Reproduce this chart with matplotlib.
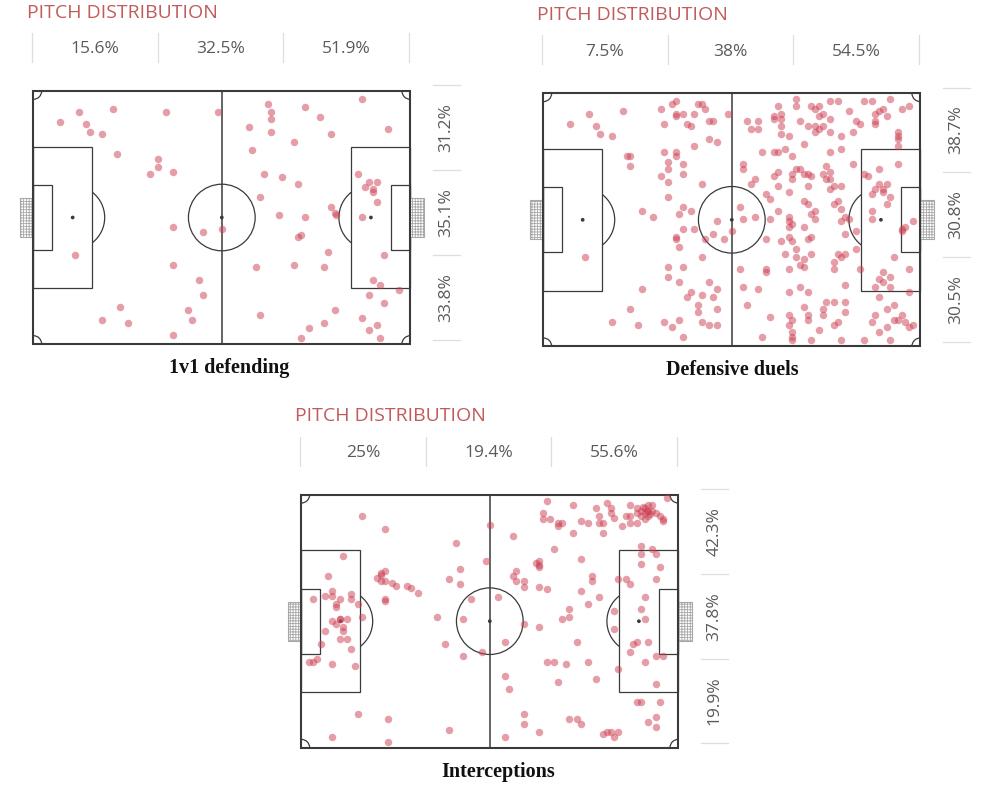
import matplotlib
matplotlib.use("Agg")
import matplotlib.pyplot as plt
from matplotlib.patches import Rectangle, Arc, Circle

plt.rcParams['hatch.linewidth'] = 0.6

# ---------------- data (pitch units: length 113, width 76, y measured from top touchline) ----------------
titles = ["1v1 defending", "Defensive duels", "Interceptions"]
header = "PITCH DISTRIBUTION"

top_pct_1 = ["15.6%", "32.5%", "51.9%"]
side_pct_1 = ["31.2%", "35.1%", "33.8%"]
top_pct_2 = ["7.5%", "38%", "54.5%"]
side_pct_2 = ["38.7%", "30.8%", "30.5%"]
top_pct_3 = ["25%", "19.4%", "55.6%"]
side_pct_3 = ["42.3%", "37.8%", "19.9%"]

# 1v1 defending
x1 = [8.1, 13.7, 15.9, 17.1, 20.5, 23.8, 25.0, 39.7, 55.4, 37.4,
      37.4, 35.1, 42.0, 12.5, 42.0, 51.0, 56.7, 42.0, 49.8, 51.0,
      26.1, 20.5, 28.4, 46.4, 47.5, 42.0,
      70.2, 71.2, 71.2, 64.6, 71.2, 81.4, 85.9, 98.4, 106.3, 89.3,
      78.0, 65.6, 69.0, 74.6, 79.2, 67.9, 97.2, 100.5, 102.9, 99.4,
      101.7, 101.7, 102.9, 98.4, 89.3, 90.3, 90.7, 73.5, 81.4, 80.3,
      79.2, 88.2, 105.1, 66.8, 78.0, 87.1, 101.7, 104.0, 109.7, 100.5,
      105.1, 90.5, 67.9, 98.4, 87.1, 82.5, 102.9, 100.5, 80.3, 104.0]
y1 = [9.2, 6.2, 10.0, 12.2, 13.0, 5.4, 19.0, 6.2, 6.2, 20.5,
      22.8, 25.0, 24.4, 49.2, 41.0, 42.4, 41.6, 52.3, 56.8, 61.3,
      65.0, 68.8, 69.6, 65.8, 68.8, 73.4,
      4.0, 6.2, 8.5, 10.8, 12.2, 4.8, 7.8, 2.4, 11.5, 13.0,
      15.2, 17.6, 25.0, 25.8, 28.0, 31.8, 25.0, 27.4, 27.4, 28.8,
      29.4, 30.4, 33.4, 37.9, 34.8, 36.6, 37.2, 37.2, 37.9, 43.2,
      44.0, 48.5, 49.2, 53.0, 52.3, 53.0, 56.8, 58.2, 59.8, 61.3,
      63.6, 65.8, 67.4, 68.1, 69.6, 71.1, 70.4, 71.9, 74.1, 74.1]

# Defensive duels
x2 = [8.1, 13.7, 15.9, 17.1, 20.5, 23.8, 25.0, 26.1, 26.1, 12.6,
      29.5, 32.8, 29.5, 26.1, 20.5, 28.4, 35.2, 38.6, 39.7, 39.7,
      39.7, 42.0, 45.3, 46.4, 47.5, 48.6, 36.3, 43.1, 44.2, 49.8,
      50.9, 55.4, 49.8, 52.1, 45.3, 36.3, 39.7, 39.7, 37.4, 42.0,
      37.4, 35.2, 42.0, 37.4, 47.5, 37.4, 42.0, 40.8, 44.2, 52.1,
      42.0, 45.3, 39.7, 39.7, 40.8, 48.6, 50.9, 54.3, 56.7, 47.5,
      37.4, 42.0, 37.4, 40.8, 49.8, 52.1, 44.2, 43.1, 47.5, 50.9,
      46.4, 52.1, 46.4, 36.3, 38.6, 40.8, 47.5, 49.8, 52.1, 42.0,
      60.0, 60.0, 61.1, 62.3, 64.5, 64.5, 69.0, 69.0, 70.2, 71.3,
      71.3, 71.3, 71.3, 73.5, 75.8, 75.8, 76.9, 80.3, 81.4, 82.5,
      83.7, 82.5, 79.2, 81.4, 81.4, 82.5, 83.7, 85.9, 88.2, 85.9,
      85.9, 91.5, 89.3, 92.7, 93.8, 95.0, 96.1, 98.4, 99.4, 100.5,
      101.7, 102.9, 99.4, 99.4, 104.0, 107.4, 109.7, 106.3, 106.3, 106.3,
      106.3, 78.0, 65.7, 69.0, 70.2, 72.4, 74.6, 85.9, 89.3, 106.3,
      92.7, 100.5,
      69.0, 70.2, 75.8, 76.9, 74.6, 74.6, 78.0, 79.2, 80.3, 83.7,
      84.8, 85.9, 85.9, 84.8, 63.4, 62.3, 70.2, 73.5, 79.2, 85.9,
      87.1, 89.3, 66.8, 67.9, 78.0, 79.2, 87.1, 88.2, 89.3, 70.2,
      73.5, 73.5, 74.6, 80.3, 81.4, 81.4, 78.0, 73.5, 67.9, 60.0,
      63.4, 58.9, 89.3, 90.5, 91.5, 90.5, 93.8, 96.1, 97.2, 99.4,
      100.5, 101.7, 101.7, 102.9, 98.4, 102.9, 104.0, 98.4, 98.4, 107.4,
      107.4, 108.5, 110.8,
      66.8, 71.3, 73.5, 74.6, 79.2, 80.3, 75.8, 72.4, 75.8, 78.0,
      80.3, 76.9, 78.0, 87.1, 88.2, 89.3, 90.5, 93.8, 87.1, 58.9,
      66.8, 66.8, 73.5, 95.0, 105.1, 109.7, 101.7, 100.5, 101.7, 104.0,
      99.4, 104.0, 109.7, 100.5, 90.5, 60.0, 64.5, 73.5, 76.9, 79.2,
      61.1, 78.0, 84.8, 87.1, 90.5, 83.7, 83.7, 90.5, 67.9, 73.5,
      74.6, 73.5, 79.2, 79.2, 87.1, 88.2, 82.5, 74.6, 74.6, 74.6,
      65.7, 80.3, 89.3, 96.1, 98.4, 99.4, 102.9, 105.1, 105.1, 106.3,
      107.4, 108.5, 109.7, 110.8, 102.9, 100.5, 104.0]
y2 = [9.1, 6.1, 9.9, 12.1, 12.9, 5.3, 18.9, 18.9, 21.9, 49.1,
      35.5, 37.1, 58.9, 64.9, 68.7, 69.5, 4.7, 3.1, 2.3, 6.1,
      6.9, 6.1, 6.1, 3.1, 3.1, 4.7, 9.1, 9.1, 9.9, 8.3,
      8.3, 6.1, 13.7, 14.5, 15.9, 17.5, 17.5, 18.9, 20.5, 21.3,
      22.7, 24.9, 24.3, 26.5, 27.3, 31.1, 34.1, 36.3, 35.5, 38.5,
      40.9, 40.9, 43.1, 43.9, 46.1, 43.9, 42.3, 43.9, 41.5, 49.1,
      52.1, 52.1, 55.1, 56.7, 56.7, 58.9, 59.7, 61.1, 60.5, 61.1,
      63.5, 64.9, 65.7, 68.7, 70.3, 68.0, 68.7, 69.5, 69.5, 73.3,
      21.3, 22.7, 8.3, 10.7, 8.3, 10.7, 6.9, 7.7, 3.9, 6.1,
      7.7, 9.9, 12.1, 12.9, 1.7, 3.9, 8.3, 3.9, 4.7, 3.9,
      6.1, 6.9, 9.9, 9.9, 11.5, 10.7, 9.9, 2.3, 2.3, 7.7,
      11.5, 5.3, 12.9, 11.5, 8.3, 9.1, 2.3, 2.3, 6.1, 5.3,
      4.7, 6.9, 8.3, 9.1, 1.7, 4.7, 3.9, 11.5, 12.9, 13.7,
      15.9, 15.3, 17.5, 17.5, 17.5, 16.7, 18.9, 17.5, 16.7, 21.3,
      21.3, 22.7,
      24.9, 23.5, 22.7, 22.7, 24.3, 25.7, 24.3, 24.3, 24.9, 24.3,
      21.9, 23.5, 25.7, 25.7, 25.7, 27.3, 27.9, 29.5, 27.9, 28.7,
      27.9, 27.9, 30.3, 31.7, 32.5, 33.3, 33.3, 32.5, 34.7, 35.5,
      37.1, 38.5, 39.3, 36.3, 35.5, 37.7, 40.1, 40.1, 37.7, 37.7,
      37.1, 34.1, 38.5, 37.1, 37.7, 42.3, 41.5, 24.3, 24.9, 28.7,
      27.3, 28.7, 29.5, 27.3, 30.3, 33.3, 31.1, 35.5, 37.7, 40.9,
      41.5, 40.1, 38.5,
      43.9, 44.5, 43.1, 44.5, 43.9, 43.1, 46.9, 48.3, 49.1, 49.9,
      48.3, 51.5, 52.3, 50.7, 48.3, 49.1, 48.3, 46.9, 52.9, 52.9,
      52.9, 53.7, 52.9, 52.9, 49.1, 52.9, 53.7, 55.9, 56.7, 55.1,
      58.1, 58.1, 59.7, 61.1, 57.5, 58.1, 58.9, 59.7, 58.1, 59.7,
      63.5, 64.1, 62.7, 62.7, 62.7, 64.9, 66.5, 65.7, 67.3, 66.5,
      68.1, 69.5, 66.5, 68.1, 69.5, 68.7, 71.1, 71.7, 73.3, 74.1,
      73.3, 74.1, 74.1, 74.1, 68.7, 66.5, 64.9, 63.5, 68.0, 68.0,
      66.5, 68.7, 70.3, 69.5, 70.3, 71.7, 74.1]

# Interceptions
x3 = [18.2, 25.0, 12.6, 8.1, 22.7, 23.8, 23.8, 25.0, 23.8, 25.0,
      27.3, 28.4, 31.7, 32.8, 35.1, 25.0, 25.0, 3.5, 7.0, 9.2,
      9.2, 11.5, 14.9, 14.9, 10.3, 10.3, 17.1, 18.2, 9.2, 10.3,
      11.5, 11.5, 12.6, 13.7, 12.6, 7.0, 11.5, 13.7, 5.8, 14.9,
      2.4, 3.5, 4.7, 9.2, 16.0, 17.1, 26.1, 9.2, 26.1, 44.2,
      40.8, 43.1, 48.6, 48.6, 51.0, 54.3, 46.4, 55.4, 56.7, 47.5,
      44.2, 47.5,
      58.9, 63.4, 63.4, 64.5, 64.5, 66.8, 66.8, 70.2, 71.3, 71.3,
      71.3, 71.3, 73.5, 66.8, 71.3, 61.1, 73.5, 72.4, 72.4, 74.6,
      76.9, 78.0, 76.9, 81.4, 81.4, 75.8, 83.7, 85.9, 88.2, 89.3,
      89.3, 90.5, 90.5, 91.5, 92.7, 92.7, 93.8, 96.1, 97.2, 98.4,
      98.4, 98.4, 100.5, 100.5, 100.5, 101.7, 101.7, 102.9, 102.9, 104.0,
      104.0, 105.1, 105.1, 104.0, 102.9, 106.3, 107.4, 108.5, 108.5, 109.7,
      83.7, 87.1, 87.1, 83.7, 89.3, 85.9, 80.3, 80.3, 78.0, 82.5,
      93.8, 93.8, 95.0, 97.2, 98.4, 101.7, 101.7, 101.7, 105.1, 106.3,
      107.4, 106.3, 102.9, 101.7, 102.9, 99.4, 100.5, 98.4, 104.0, 106.3,
      108.5, 102.9, 95.0, 73.5, 75.8, 79.2, 85.9, 61.1, 62.3, 76.9,
      88.2, 106.3, 100.5, 101.7, 107.4, 66.8, 66.8, 80.3, 82.5, 83.7,
      71.3, 61.1, 90.5, 91.5, 92.7, 93.8, 95.0, 104.0, 106.3, 106.3,
      103.5, 102.3, 104.6]
y3 = [6.4, 10.2, 18.4, 24.4, 25.0, 24.2, 23.6, 22.8, 25.8, 25.8,
      26.6, 27.4, 27.4, 28.0, 29.6, 31.2, 32.0, 31.2, 30.4, 29.0,
      30.4, 31.2, 29.8, 31.2, 32.8, 33.6, 32.8, 36.6, 38.0, 38.8,
      37.4, 37.2, 39.6, 37.4, 41.0, 41.0, 43.4, 43.4, 44.8, 46.4,
      50.2, 50.2, 49.4, 51.0, 51.6, 66.0, 67.4, 72.8, 74.2, 70.6,
      36.6, 44.8, 48.6, 37.4, 31.2, 47.2, 14.6, 19.8, 9.2, 22.2,
      25.2, 26.8,
      30.6, 12.4, 24.4, 22.8, 26.0, 26.0, 27.6, 20.6, 19.8, 21.6,
      21.0, 27.6, 28.2, 38.8, 39.6, 44.2, 1.8, 5.6, 7.2, 7.2,
      8.6, 8.6, 9.4, 3.2, 11.6, 16.2, 7.8, 8.6, 4.0, 6.4,
      8.6, 8.6, 11.6, 2.6, 4.0, 5.6, 7.0, 9.4, 6.4, 6.4,
      3.2, 8.6, 8.6, 4.0, 5.6, 4.8, 6.4, 4.0, 5.6, 3.2,
      4.8, 3.2, 4.8, 6.4, 7.2, 5.6, 6.4, 7.2, 7.8, 1.0,
      19.2, 24.4, 25.8, 29.0, 30.6, 32.8, 34.4, 36.6, 37.4, 44.2,
      35.0, 40.4, 25.2, 25.2, 26.8, 15.4, 17.8, 20.8, 16.2, 17.8,
      21.6, 25.2, 30.6, 34.4, 37.4, 44.8, 44.2, 47.2, 44.2, 48.6,
      48.6, 50.2, 52.4, 50.2, 50.2, 51.0, 50.2, 54.6, 58.4, 56.2,
      55.4, 57.0, 62.2, 62.2, 62.2, 66.0, 69.0, 67.4, 67.4, 69.0,
      71.4, 72.8, 72.0, 71.2, 71.2, 72.8, 71.2, 68.2, 66.8, 69.8,
      5.0, 3.6, 5.9]

# ---------------- layout ----------------
W, H = 998, 793
fig = plt.figure(figsize=(W / 100, H / 100), dpi=100)
fig.patch.set_facecolor("white")

PL, PW = 113.0, 76.0
LINE = "#3a3a3a"
RED = "#c25b5b"
GREY_TXT = "#5a5a5a"
SEP = "#dedede"
DOT = "#cc3f52"


def add_axes_px(x0, y0, w, h):
    return fig.add_axes([x0 / W, 1 - (y0 + h) / H, w / W, h / H])


def draw_pitch(ax):
    ax.set_xlim(0, PL)
    ax.set_ylim(PW, 0)
    ax.axis("off")
    kw = dict(fill=False, ec=LINE, clip_on=False)
    ax.add_patch(Rectangle((0, 0), PL, PW, lw=1.5, zorder=2, **kw))
    ax.plot([PL / 2, PL / 2], [0, PW], color=LINE, lw=1.1, zorder=2)
    ax.add_patch(Circle((PL / 2, PW / 2), 10.0, lw=0.9, **kw))
    ax.add_patch(Circle((PL / 2, PW / 2), 0.35, color=LINE, zorder=2))
    # penalty & goal areas
    ax.add_patch(Rectangle((0, 16.7), 17.7, 42.6, lw=0.9, **kw))
    ax.add_patch(Rectangle((PL - 17.7, 16.7), 17.7, 42.6, lw=0.9, **kw))
    ax.add_patch(Rectangle((0, 28.2), 5.7, 19.6, lw=0.9, **kw))
    ax.add_patch(Rectangle((PL - 5.7, 28.2), 5.7, 19.6, lw=0.9, **kw))
    ax.add_patch(Circle((11.8, PW / 2), 0.35, color=LINE, zorder=2))
    ax.add_patch(Circle((PL - 11.8, PW / 2), 0.35, color=LINE, zorder=2))
    ax.add_patch(Arc((11.8, PW / 2), 19.2, 19.2, theta1=-52, theta2=52, ec=LINE, lw=0.9))
    ax.add_patch(Arc((PL - 11.8, PW / 2), 19.2, 19.2, theta1=128, theta2=232, ec=LINE, lw=0.9))
    # corner arcs
    for (cx, cy, t1) in [(0, 0, 0), (PL, 0, 90), (PL, PW, 180), (0, PW, 270)]:
        ax.add_patch(Arc((cx, cy), 5, 5, theta1=t1, theta2=t1 + 90, ec=LINE, lw=0.9))
    # goals / nets
    for gx in (-4.0, PL):
        ax.add_patch(Rectangle((gx, 32.2), 4.0, 11.6, fc="white", ec="#a8a8a8",
                               hatch="++++++", lw=0.8, clip_on=False, zorder=1))


def decorate(ax, top_pct, side_pct, title, title_dx_px):
    ph = 253.0
    pw = 377.0
    ax.text(-0.017, 1 + 73.5 / ph, header, transform=ax.transAxes, ha="left",
            va="baseline", fontsize=14, color=RED, family="Open Sans")
    for i in range(4):
        xs = -0.003 + i * 0.9995 / 3
        ax.plot([xs, xs], [1 + 29 / ph, 1 + 58 / ph], transform=ax.transAxes,
                color=SEP, lw=0.9, clip_on=False)
    for i, lab in enumerate(top_pct):
        ax.text(-0.003 + (i + 0.5) * 0.9995 / 3, 1 + 37.8 / ph, lab, transform=ax.transAxes,
                ha="center", va="baseline", fontsize=12.5, color=GREY_TXT, family="Open Sans")
    ys = [1.022, 0.687, 0.352, 0.017]
    for yv in ys:
        ax.plot([1 + 23 / pw, 1 + 50 / pw], [yv, yv], transform=ax.transAxes,
                color=SEP, lw=0.9, clip_on=False)
    for i, lab in enumerate(side_pct):
        yc = (ys[i] + ys[i + 1]) / 2
        ax.text(1 + 36 / pw, yc, lab, transform=ax.transAxes, rotation=90,
                ha="center", va="center", fontsize=12.5, color=GREY_TXT, family="Open Sans")
    ax.text(0.5 + title_dx_px / pw, -29 / ph, title, transform=ax.transAxes,
            ha="center", va="baseline", fontsize=14.5, weight="bold",
            family="Liberation Serif", color="#111111")


panels = [
    ((33.3, 91.0), x1, y1, top_pct_1, side_pct_1, titles[0], 7),
    ((543.3, 93.3), x2, y2, top_pct_2, side_pct_2, titles[1], 1),
    ((301.3, 494.7), x3, y3, top_pct_3, side_pct_3, titles[2], 8),
]

for (pos, xs, ys, tp, sp, ttl, dx) in panels:
    ax = add_axes_px(pos[0], pos[1], 377, 253)
    draw_pitch(ax)
    ax.scatter(xs, ys, s=29, color=DOT, alpha=0.5, linewidths=0, zorder=3, clip_on=False)
    decorate(ax, tp, sp, ttl, dx)

fig.savefig("out.png", dpi=100, facecolor="white")
